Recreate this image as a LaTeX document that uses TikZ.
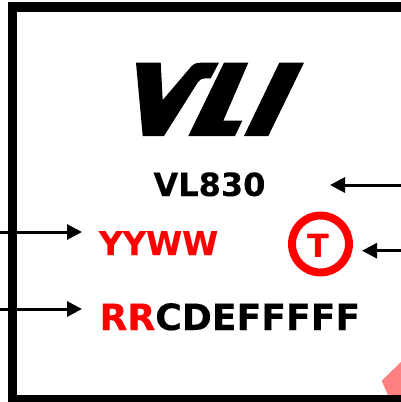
\documentclass[tikz,border=0pt]{standalone}
\usepackage{fontspec}
\setmainfont{DejaVu Sans}
\newfontfamily\heavy[FakeBold=0.25]{DejaVu Sans Bold}
\usetikzlibrary{arrows.meta}
\definecolor{pinkish}{HTML}{FF8080}
\tikzset{
  lbl/.style={inner sep=0pt,outer sep=0pt},
  ptr/.style={line width=3pt,-{Triangle[length=15pt,width=15pt]}},
  logo/.style={fill=black,draw=none}
}
\begin{document}
\begin{tikzpicture}[x=1pt,y=-1pt]
\useasboundingbox (0,0) rectangle (401,402);
\fill[white] (0,0) rectangle (401,402);
% pink mark under the frame
\fill[pinkish] (381.7,380.7) -- (401,362) -- (401,396) -- (388.3,396) -- cycle;
% frame
\draw[line width=9.5pt,line join=miter] (410,7) -- (12.7,7) -- (12.7,399.5) -- (410,399.5);
% logo
\fill[logo] (136,62.7) -- (160.7,62.7) -- (162.7,100) -- (191.7,66) .. controls (194.5,63.5) and (197,62.7) .. (201,62.7) -- (219,62.7) -- (210.7,78.3) -- (205,78.3) .. controls (202,78.3) and (200,79.5) .. (198,82) -- (164,136) -- (142.7,136) -- cycle;
\fill[logo] (224,62.7) -- (248.3,62.7) -- (223.3,120.7) -- (242.3,120.7) -- (235,136) -- (188.3,136) -- cycle;
\fill[logo] (279.3,62.7) -- (304,62.7) -- (268.3,136) -- (244,136) -- cycle;
% labels
\node[lbl,font=\heavy\fontsize{32}{32}\selectfont,anchor=base west] (part) at (153.5,196) {VL830};
\node[lbl,font=\heavy\fontsize{32.6}{32}\selectfont,text=red,anchor=base west] (date) at (99,255) {YYWW};
\node[lbl,font=\heavy\fontsize{36.2}{36}\selectfont,anchor=base west] (lot) at (99.5,330) {\textcolor{red}{RR}CDEFFFFF};
\node[circle,draw=red,line width=8pt,minimum size=57pt,inner sep=0pt,outer sep=4pt] (ring) at (320.5,244) {};
\node[lbl,font=\bfseries\fontsize{32}{32}\selectfont,text=red,anchor=base] (tee) at (318,257.3) {T};
% arrow ends
\coordinate (partfrom) at (401,185);
\coordinate (partto) at (330,185);
\coordinate (ringfrom) at (401,250.7);
\coordinate (ringto) at (362,250.7);
\coordinate (datefrom) at (0,232);
\coordinate (dateto) at (82,232);
\coordinate (lotfrom) at (0,309);
\coordinate (lotto) at (82,309);
\draw[ptr] (partfrom) -- (partto);
\draw[ptr] (ringfrom) -- (ringto);
\draw[ptr] (datefrom) -- (dateto);
\draw[ptr] (lotfrom) -- (lotto);
\end{tikzpicture}
\end{document}
